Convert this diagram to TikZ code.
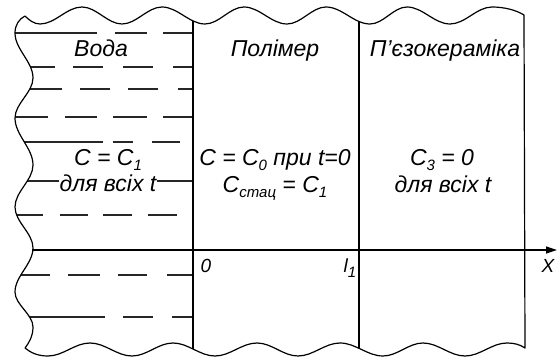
\documentclass[tikz,border=0pt]{standalone}
\usepackage{fontspec}
\setmainfont{Liberation Sans}
\usetikzlibrary{arrows.meta}
\newcommand\mysb[1]{\raisebox{-5pt}{\fontsize{15}{15}\selectfont #1}}
\begin{document}
\begin{tikzpicture}[x=1pt,y=-1pt,line width=1.2pt,line join=round,
  lbl/.style={font=\fontsize{23}{26}\selectfont\itshape,inner sep=1pt,anchor=base},
  axl/.style={font=\fontsize{19}{22}\selectfont\itshape,inner sep=0pt,anchor=base},
  wline/.style={line width=1.4pt,draw=black!85}]
\useasboundingbox (0,0) rectangle (558,358);
\path[save path=\bndp] (25,16) .. controls (29,20) and (34,24) .. (40,24)
 .. controls (55.3,24) and (66.7,7) .. (82,7)
 .. controls (96.5,7) and (107.5,24) .. (122,24)
 .. controls (136.5,24) and (147.5,7) .. (162,7)
 .. controls (177.6,7) and (189.4,24) .. (205,24)
 .. controls (219.2,24) and (229.8,7) .. (244,7)
 .. controls (259.6,7) and (271.4,24) .. (287,24)
 .. controls (301.2,24) and (311.8,7) .. (326,7)
 .. controls (342,7) and (354,24) .. (370,24)
 .. controls (383.4,24) and (393.6,7) .. (407,7)
 .. controls (422.6,7) and (434.4,24) .. (450,24)
 .. controls (465.3,24) and (476.7,7) .. (492,7)
 .. controls (504,7) and (516,10) .. (524,15)
 -- (525,348)
 .. controls (520,344.5) and (514,343) .. (507,343)
 .. controls (491.7,343) and (480.3,356) .. (465,356)
 .. controls (449.7,356) and (438.3,343) .. (423,343)
 .. controls (408.5,343) and (397.5,356) .. (383,356)
 .. controls (367.4,356) and (355.6,343) .. (340,343)
 .. controls (324.7,343) and (313.3,356) .. (298,356)
 .. controls (283.1,356) and (271.9,343) .. (257,343)
 .. controls (241.7,343) and (230.3,356) .. (215,356)
 .. controls (199.7,356) and (188.3,343) .. (173,343)
 .. controls (158.1,343) and (146.9,356) .. (132,356)
 .. controls (116.7,356) and (105.3,343) .. (90,343)
 .. controls (74.7,343) and (63.3,356) .. (48,356)
 .. controls (38,356) and (31,353) .. (25,348)
 .. controls (29,343) and (33,336) .. (33,327)
 .. controls (33,314.3) and (15,304.7) .. (15,292)
 .. controls (15,276) and (33,264) .. (33,248)
 .. controls (33,233.1) and (15,221.9) .. (15,207)
 .. controls (15,191.7) and (33,180.3) .. (33,165)
 .. controls (33,147.9) and (15,135.1) .. (15,118)
 .. controls (15,103.5) and (33,92.5) .. (33,78)
 .. controls (33,61.6) and (15,49.4) .. (15,33)
 .. controls (15,25) and (19,19) .. (25,16) -- cycle;
\begin{scope}
\clip[use path=\bndp];
\draw[wline] (0,33) -- (97,33) (115,33) -- (147,33) (163,33) -- (193,33);
\draw[wline] (0,67) -- (55,67) (73,67) -- (103,67) (123,67) -- (153,67) (173,67) -- (193,67);
\draw[wline] (0,89) -- (62,89) (80,89) -- (110,89) (128,89) -- (158,89) (178,89) -- (193,89);
\draw[wline] (0,117) -- (48,117) (65,117) -- (97,117) (113,117) -- (147,117) (163,117) -- (193,117);
\draw[wline] (0,142) -- (103,142) (113,142) -- (133,142) (152,142) -- (180,142);
\draw[wline] (0,181) -- (193,181);
\draw[wline] (0,215) -- (43,215) (60,215) -- (88,215) (103,215) -- (132,215) (148,215) -- (177,215);
\draw[wline] (0,275) -- (50,275) (68,275) -- (100,275) (118,275) -- (147,275) (167,275) -- (193,275);
\draw[wline] (0,317) -- (105,317) (123,317) -- (153,317) (172,317) -- (193,317);
\draw (193,0) -- (193,358);
\draw (359,0) -- (359,358);
\end{scope}
\draw[use path=\bndp];
\coordinate (axstart) at (32,250);
\coordinate (axend) at (557,250);
\draw[-{Triangle[length=11pt,width=7pt]}] (axstart) -- (axend);
\node[lbl] (voda) at (101,57) {Вода};
\node[lbl] (polimer) at (275,57) {Полімер};
\node[lbl] (piezo) at (445,57) {П{\char"0027}єзокераміка};
\node[lbl] (c1) at (108,166) {C = C\mysb{1}};
\node[lbl,fill=white] (t1) at (108,192) {для всіх t};
\node[lbl] (c0) at (275,166) {C = C\mysb{0} при t=0};
\node[lbl] (cst) at (275,193) {C\mysb{стац} = C\mysb{1}};
\node[lbl] (c3) at (442,166) {C\mysb{3} = 0};
\node[lbl] (t3) at (443,193) {для всіх t};
\node[axl] (zero) at (206,273) {0};
\node[axl] (l1) at (350,273) {l\mysb{1}};
\node[axl] (xlab) at (548,273) {X};
\end{tikzpicture}
\end{document}
